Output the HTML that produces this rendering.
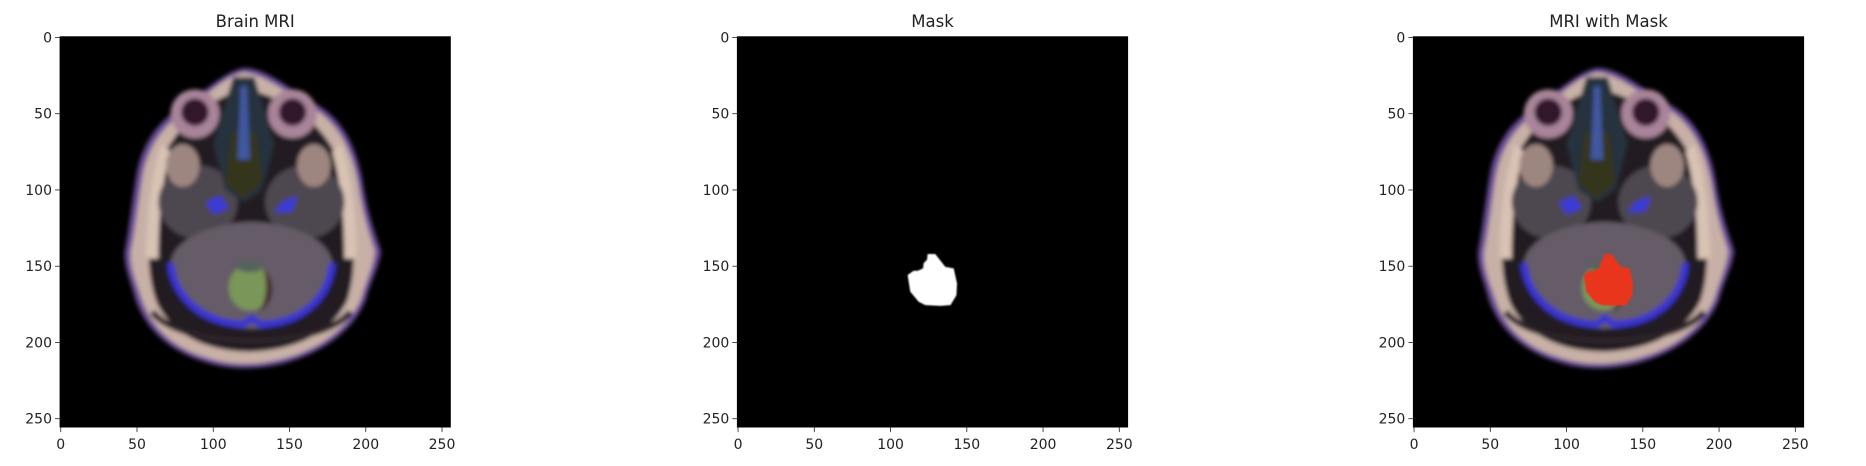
<!DOCTYPE html>
<html><head><meta charset="utf-8"><style>
html,body{margin:0;padding:0;background:#fff;}
svg{display:block;font-family:"DejaVu Sans","Liberation Sans",sans-serif;}
</style></head><body>
<svg id="fig" width="1866" height="466" viewBox="0 0 1866 466" xmlns="http://www.w3.org/2000/svg">
<defs>
  <filter id="blur" x="-10%" y="-10%" width="120%" height="120%"><feGaussianBlur stdDeviation="1.4"/></filter>
  <filter id="blur2" x="-10%" y="-10%" width="120%" height="120%"><feGaussianBlur stdDeviation="0.7"/></filter>
  <g id="brain">
    <g filter="url(#blur)">
      <path d="M120,20 C135,20 148,33 168,44 C185,54 194,72 198,95 C201,115 206,128 210,140 C209,150 203,160 200,172 C192,192 172,207 145,214 C128,218 110,218 95,213 C72,206 56,192 49,172 C46,160 41,150 42,140 C45,125 47,105 50,88 C54,68 65,54 80,45 C95,35 108,22 120,20 Z" fill="#6a4e98"/>
      <path d="M120,23 C133,24 146,35 165,46 C182,56 191,74 195,96 C198,116 202,128 206,140 C205,150 200,160 197,171 C189,190 170,205 144,211 C128,215 111,215 96,210 C74,204 59,190 53,171 C49,159 45,150 46,140 C49,126 51,106 54,89 C58,70 68,57 83,47 C97,37 108,25 120,23 Z" fill="#c8b0a6"/>
      <path d="M121,34 C150,40 178,58 187,95 C192,125 195,150 188,172 C178,194 153,205 125,206 C96,206 73,195 63,174 C55,153 57,125 62,96 C68,62 95,40 121,34 Z" fill="#231c24"/>
      <path d="M66,70 C58,95 56,125 56,145 L64,145 C64,120 66,95 72,75 Z" fill="#d8c2b4"/>
      <path d="M184,70 C192,95 194,125 194,145 L186,145 C186,120 184,95 178,75 Z" fill="#d8c2b4"/>
      <ellipse cx="90" cy="108" rx="26" ry="24" fill="#4e4650"/>
      <ellipse cx="160" cy="108" rx="26" ry="24" fill="#4e4650"/>
      <ellipse cx="80" cy="84" rx="11" ry="14" fill="#9e8680"/>
      <ellipse cx="166" cy="84" rx="11" ry="14" fill="#9e8680"/>
      <circle cx="88" cy="50" r="16" fill="#a9849a"/>
      <circle cx="152" cy="50" r="16" fill="#a9849a"/>
      <circle cx="88" cy="49" r="9" fill="#33182a"/>
      <circle cx="152" cy="49" r="9" fill="#33182a"/>
      <path d="M113,26 L127,26 L140,70 L132,100 L120,108 L108,100 L100,70 Z" fill="#26303e"/>
      <path d="M112,62 L128,62 L132,95 L120,106 L108,95 Z" fill="#34361a"/>
      <path d="M118,32 L122,32 L124,80 L116,80 Z" fill="#4058a0"/>
      <path d="M95,108 L105,104 L110,112 L100,116 Z" fill="#3a3ad8"/>
      <path d="M155,104 L145,108 L140,115 L152,114 Z" fill="#3a3ad8"/>
      <path d="M72,148 C74,132 98,122 125,121 C152,122 176,132 178,148 C178,170 162,190 125,191 C88,190 72,170 72,148 Z" fill="#655b68"/>
      <path d="M72,148 C74,172 96,188 120,188 L125,184 L131,188 C156,188 176,172 178,148" fill="none" stroke="#3b34d0" stroke-width="4.5"/>
      <ellipse cx="124" cy="164" rx="14" ry="15" fill="#7a9658"/>
      <path d="M133,152 C142,160 140,175 130,180 C135,172 136,162 133,152 Z" fill="#4a2a30"/>
      <ellipse cx="124" cy="150" rx="9" ry="4" fill="#56645c"/>
      <path d="M60,180 C80,205 170,205 190,180" fill="none" stroke="#2a2228" stroke-width="4"/>
    </g>
  </g>
</defs>
<g id="axes-layer"></g>
</svg>
<script>
const tickValues = [0, 50, 100, 150, 200, 250];
const tickLabels = ["0", "50", "100", "150", "200", "250"];
const panelTitles = ["Brain MRI", "Mask", "MRI with Mask"];
const maskX = [124.3,129.3,135.9,141.4,143.6,143.2,139.3,132.7,122.8,118.4,112.9,111.2,115.1,117.8,121.3,121.7,123.9];
const maskY = [142,142,150.4,151.4,161.3,169,175.5,176,175.5,173.3,166.7,155.8,153,153,151.4,148,145.8];

const NS = "http://www.w3.org/2000/svg";
const layer = document.getElementById('axes-layer');
const lefts = [60, 737.3, 1413.3];
const TOP = 36.7, SIZE = 390.4, N = 256, S = SIZE / N;
function mk(tag, attrs, parent){ const e = document.createElementNS(NS, tag); for (const k in attrs) e.setAttribute(k, attrs[k]); (parent||layer).appendChild(e); return e; }

lefts.forEach((L, p) => {
  const sx = v => L + (v + 0.5) * S;
  const sy = v => TOP + (v + 0.5) * S;
  const g = mk('g', {});
  
  
  const clipId = 'clip' + p;
  const cp = mk('clipPath', {id: clipId}, g);
  mk('rect', {x: L, y: TOP, width: SIZE, height: SIZE}, cp);
  const bg = mk('rect', {x: L, y: TOP, width: SIZE, height: SIZE, fill: '#000'}, g);
  
  
  const img = mk('g', {'clip-path': 'url(#' + clipId + ')'}, g);
  
  
  if (p !== 1) {
    const u = mk('use', {href: '#brain', transform: 'translate(' + sx(0) + ',' + sy(0) + ') scale(' + S + ')'}, img);
    
    
  }
  if (p > 0) {
    const pts = maskX.map((x, i) => sx(x) + ',' + sy(maskY[i])).join(' ');
    const poly = mk('polygon', {points: pts, fill: p === 1 ? '#ffffff' : '#e8341f', filter: 'url(#blur2)'}, img);
    
    
  }
  const fr = mk('rect', {x: L, y: TOP, width: SIZE, height: SIZE, fill: 'none', stroke: '#000', 'stroke-width': 0.8}, g);
  
  
  const t = mk('text', {x: L + SIZE / 2, y: 27, 'text-anchor': 'middle', 'font-size': 16.5, fill: '#222'}, g);
  t.textContent = panelTitles[p];
  
  
  tickValues.forEach((v, i) => {
    mk('line', {x1: L - 5, x2: L, y1: sy(v), y2: sy(v), stroke: '#222', 'stroke-width': 0.8}, g);
    const yl = mk('text', {x: L - 8, y: sy(v) + 5, 'text-anchor': 'end', 'font-size': 14, fill: '#222'}, g);
    yl.textContent = tickLabels[i];
    
    
    mk('line', {x1: sx(v), x2: sx(v), y1: TOP + SIZE, y2: TOP + SIZE + 5, stroke: '#222', 'stroke-width': 0.8}, g);
    const xl = mk('text', {x: sx(v), y: TOP + SIZE + 22, 'text-anchor': 'middle', 'font-size': 14, fill: '#222'}, g);
    xl.textContent = tickLabels[i];
    
    
  });
});
</script>
</body></html>
